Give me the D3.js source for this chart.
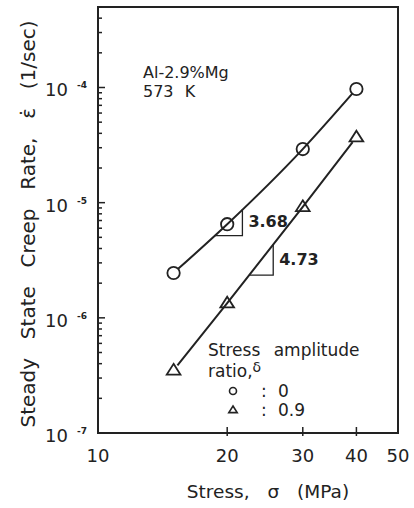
<!DOCTYPE html>
<html>
<head>
<meta charset="utf-8">
<script src="https://cdn.jsdelivr.net/npm/d3@7"></script>
<style>
  html, body { margin: 0; padding: 0; background: #fff; }
  svg { display: block; }
  text { font-family: "DejaVu Sans", sans-serif; fill: #222; }
</style>
</head>
<body>
<svg id="chart" width="414" height="508"></svg>
<script>
// ---- data ----
const stress = [15, 20, 30, 40];                      // MPa
const rateDelta0 = [2.45e-6, 6.5e-6, 2.92e-5, 9.7e-5];  // 1/sec, delta = 0
const rateDelta09 = [3.5e-7, 1.34e-6, 9.2e-6, 3.7e-5];  // 1/sec, delta = 0.9
const xTickValues = [10, 20, 30, 40, 50];
const yDecades = [-4, -5, -6, -7];
const slopeLabels = ["3.68", "4.73"];
const slopeSpans = [[18.7, 21.7], [22.5, 25.6]];
const legendLabels = ["0", "0.9"];

// ---- layout ----
const svg = d3.select("#chart");
const L = 98, R = 398, T = 7, B = 433;
const x = d3.scaleLog().domain([10, 50]).range([L, R]);
const y = d3.scaleLog().domain([1e-7, 5e-4]).range([B, T]);
const ink = "#222";

// frame
svg.append("rect").attr("x", L).attr("y", T).attr("width", R - L).attr("height", B - T)
  .attr("fill", "none").attr("stroke", ink).attr("stroke-width", 2);

// y ticks (inward)
const yMinor = [];
for (let e = -7; e <= -4; e++) for (let m = 1; m <= 9; m++) {
  const v = m * Math.pow(10, e);
  if (v >= 1e-7 && v <= 5e-4) yMinor.push({ v, major: m === 1 });
}
svg.append("g").selectAll("line").data(yMinor).join("line")
  .attr("x1", L).attr("x2", d => L + (d.major ? 7 : 4))
  .attr("y1", d => y(d.v)).attr("y2", d => y(d.v))
  .attr("stroke", ink).attr("stroke-width", 1.5);

const yl = svg.append("g").selectAll("g").data(yDecades).join("g");
yl.append("text").attr("x", 68).attr("y", d => y(Math.pow(10, d)) + 9)
  .attr("text-anchor", "end").attr("font-size", 18).text("10");
yl.append("text").attr("x", 77).attr("y", d => y(Math.pow(10, d)) + 1)
  .attr("font-size", 9).attr("font-weight", "bold").text(d => "-" + Math.abs(d));

// x ticks
svg.append("g").selectAll("line").data(xTickValues.slice(1, -1)).join("line")
  .attr("x1", d => x(d)).attr("x2", d => x(d))
  .attr("y1", B - 6).attr("y2", B + 3)
  .attr("stroke", ink).attr("stroke-width", 1.5);
svg.append("g").selectAll("text").data(xTickValues).join("text")
  .attr("x", d => x(d)).attr("y", 462).attr("text-anchor", "middle")
  .attr("font-size", 18).text(d => d);

// axis titles
svg.append("text").attr("x", 268).attr("y", 498)
  .attr("text-anchor", "middle").attr("font-size", 18.5)
  .attr("word-spacing", 12).text("Stress, σ (MPa)");
const yt = svg.append("text").attr("transform", "translate(35,224) rotate(-90)")
  .attr("text-anchor", "middle").attr("font-size", 20)
  .text("Steady State Creep Rate, ε̇ (1/sec)");
const natural = yt.node().getComputedTextLength();
yt.attr("word-spacing", Math.max(0, (407 - natural) / 5));

// annotation
svg.append("text").attr("x", 143).attr("y", 78).attr("font-size", 16).text("Al-2.9%Mg");
svg.append("text").attr("x", 143).attr("y", 97).attr("font-size", 16).attr("word-spacing", 6).text("573 K");

// series
const series = [
  { vals: rateDelta0, shape: "circle" },
  { vals: rateDelta09, shape: "triangle" }
];
const triPath = s => `M0,${-s} L${s * 1.05},${s * 0.65} L${-s * 1.05},${s * 0.65} Z`;
const R0 = 6.2;

series.forEach(s => {
  const pts = stress.map((v, i) => [x(v), y(s.vals[i])]);
  const trim = (a, b) => {
    const dx = b[0] - a[0], dy = b[1] - a[1], len = Math.hypot(dx, dy);
    return [a[0] + dx / len * R0, a[1] + dy / len * R0];
  };
  const p = pts.slice();
  p[0] = trim(pts[0], pts[1]);
  p[p.length - 1] = trim(pts[pts.length - 1], pts[pts.length - 2]);
  svg.append("path")
    .attr("d", d3.line().curve(s.shape === "circle" ? d3.curveMonotoneX : d3.curveLinear)(p))
    .attr("fill", "none").attr("stroke", ink).attr("stroke-width", 2);
  const g = svg.append("g").selectAll("g").data(pts).join("g")
    .attr("transform", d => `translate(${d[0]},${d[1]})`);
  if (s.shape === "circle") {
    g.append("circle").attr("r", R0).attr("fill", "none").attr("stroke", ink).attr("stroke-width", 1.8);
  } else {
    g.append("path").attr("d", triPath(6.5)).attr("fill", "none").attr("stroke", ink).attr("stroke-width", 1.8);
  }
});

// slope triangles
const logInterp = (vals, sx) => {
  const lx = Math.log10(sx);
  for (let i = 0; i < stress.length - 1; i++) {
    const a = Math.log10(stress[i]), b = Math.log10(stress[i + 1]);
    if (lx >= a && lx <= b) {
      const t = (lx - a) / (b - a);
      return Math.pow(10, Math.log10(vals[i]) * (1 - t) + Math.log10(vals[i + 1]) * t);
    }
  }
  return vals[0];
};
[rateDelta0, rateDelta09].forEach((vals, k) => {
  const [s1, s2] = slopeSpans[k];
  const x1 = x(s1), x2 = x(s2);
  const yb = y(logInterp(vals, s1)), ytp = y(logInterp(vals, s2));
  svg.append("path").attr("d", `M${x1},${yb} L${x2},${yb} L${x2},${ytp}`)
    .attr("fill", "none").attr("stroke", ink).attr("stroke-width", 1.3);
  svg.append("text").attr("x", x2 + 6).attr("y", (yb + ytp) / 2 + 5)
    .attr("font-size", 16).attr("font-weight", "bold").text(slopeLabels[k]);
});

// legend
svg.append("text").attr("x", 208).attr("y", 356).attr("font-size", 17)
  .attr("word-spacing", 8).text("Stress amplitude");
const rt = svg.append("text").attr("x", 208).attr("y", 377).attr("font-size", 17);
rt.append("tspan").text("ratio,");
rt.append("tspan").attr("dy", -5).attr("font-size", 14).text("δ");
legendLabels.forEach((lab, i) => {
  const ly = 391 + i * 19;
  if (i === 0) {
    svg.append("circle").attr("cx", 233).attr("cy", ly).attr("r", 3.5)
      .attr("fill", "none").attr("stroke", ink).attr("stroke-width", 1.6);
  } else {
    svg.append("path").attr("transform", `translate(233,${ly})`).attr("d", triPath(4))
      .attr("fill", "none").attr("stroke", ink).attr("stroke-width", 1.6);
  }
  svg.append("text").attr("x", 261).attr("y", ly + 6).attr("font-size", 17).text(":");
  svg.append("text").attr("x", 278).attr("y", ly + 6).attr("font-size", 17).text(lab);
});
</script>
</body>
</html>
